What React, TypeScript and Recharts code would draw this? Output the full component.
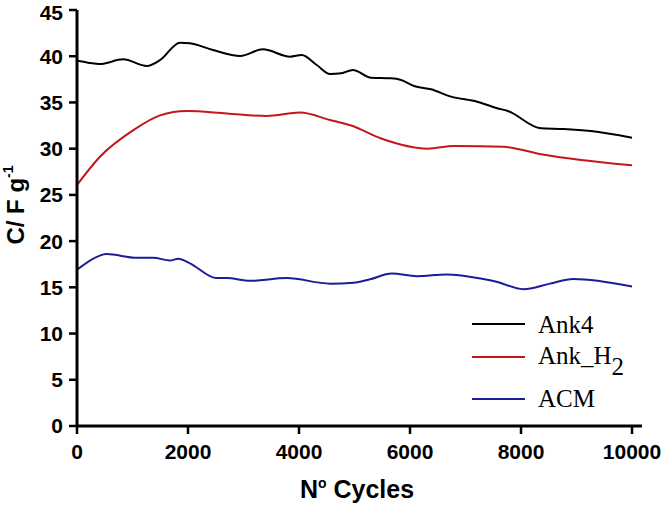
import React from 'react';
import { LineChart, XAxis, YAxis, Line, Legend } from 'recharts';

// cycle number / capacitance (F g-1)
const ank4Cycles = [0, 200, 410, 830, 1260, 1500, 1855, 2035, 2450, 2940, 3350, 3840, 4050, 4320, 4560, 4760, 4970, 5300, 5660, 5840, 6070, 6380, 6740, 7210, 7570, 7760, 8360, 8770, 9260, 10000];
const ank4Values = [39.5, 39.3, 39.16, 39.66, 38.94, 39.6, 41.47, 41.4, 40.67, 40.03, 40.75, 39.95, 40.13, 39.05, 38.08, 38.15, 38.51, 37.68, 37.61, 37.43, 36.78, 36.42, 35.63, 35.08, 34.37, 34.08, 32.2, 32.13, 31.91, 31.19];

const ankH2Cycles = [0, 414, 1015, 1495, 1976, 2700, 3418, 4018, 4560, 4940, 5480, 6320, 6790, 7690, 8360, 10000];
const ankH2Values = [26.07, 29.13, 32.0, 33.6, 34.07, 33.8, 33.53, 33.9, 33.1, 32.5, 31.1, 30.0, 30.3, 30.2, 29.4, 28.2];

const acmCycles = [0, 234, 535, 1075, 1375, 1675, 1825, 2035, 2515, 2695, 3120, 3780, 4560, 4980, 5280, 5670, 6120, 6660, 7320, 7560, 8040, 8520, 8940, 10000];
const acmValues = [16.9, 17.9, 18.6, 18.2, 18.2, 17.9, 18.1, 17.6, 16.0, 16.0, 15.7, 16.0, 15.4, 15.5, 15.87, 16.5, 16.2, 16.4, 15.9, 15.6, 14.8, 15.4, 15.9, 15.1];

const X_TICKS = [0, 2000, 4000, 6000, 8000, 10000];
const Y_TICKS = [0, 5, 10, 15, 20, 25, 30, 35, 40, 45];

const toRows = (cycles: number[], values: number[]) => cycles.map((c, i) => ({ c, v: values[i] }));

const SERIES = [
  { name: 'Ank4', color: '#000000', data: toRows(ank4Cycles, ank4Values) },
  { name: 'Ank_H2', color: '#c4161c', data: toRows(ankH2Cycles, ankH2Values) },
  { name: 'ACM', color: '#1c1c96', data: toRows(acmCycles, acmValues) },
];

const SANS = 'Arial, "Liberation Sans", sans-serif';
const SERIF = '"Times New Roman", "Liberation Serif", serif';

const tickStyle = { fill: '#000', fontSize: 21, fontWeight: 'bold', fontFamily: SANS };
const frame = { stroke: '#000', strokeWidth: 3 };

const LegendBox = ({ payload }: any) => {
  const lineY = [24, 57, 99];
  const baseY = [33, 64, 107];
  return (
    <svg width={192} height={122} style={{ overflow: 'visible', display: 'block' }}>
      {(payload || []).map((p: any) => {
        const i = SERIES.findIndex((s) => s.name === p.value);
        const m = /^(.*_H)(\d)$/.exec(String(p.value));
        return (
          <g key={p.value}>
            <line x1={2} x2={55} y1={lineY[i]} y2={lineY[i]} stroke={p.color} strokeWidth={2} />
            <text x={68} y={baseY[i]} fontFamily={SERIF} fontSize={25} fill="#000">
              {m ? (
                <>
                  {m[1]}
                  <tspan dy={11}>{m[2]}</tspan>
                </>
              ) : (
                p.value
              )}
            </text>
          </g>
        );
      })}
    </svg>
  );
};

const YTitle = () => (
  <text x={24} y={205} transform="rotate(-90, 24, 205)" textAnchor="middle" fontFamily={SANS} fontWeight="bold" fontSize={24} fill="#000">
    C/ F g<tspan fontSize={14} dy={-11}>-1</tspan>
  </text>
);

const XTitle = () => (
  <text x={357} y={498} textAnchor="middle" fontFamily={SANS} fontWeight="bold" fontSize={25} fill="#000">
    N<tspan fontSize={14} dy={-10}>o</tspan>
    <tspan dy={10}> Cycles</tspan>
  </text>
);

export default function App() {
  return (
    <div style={{ position: 'absolute', left: 0, top: 0, background: '#fff' }}>
      <LineChart width={662} height={506} margin={{ top: 10, right: 20, left: 0, bottom: 0 }}>
        <XAxis
          xAxisId="b"
          type="number"
          dataKey="c"
          domain={[0, 10180]}
          ticks={X_TICKS}
          allowDataOverflow
          height={80}
          tickSize={8}
          tickMargin={10}
          axisLine={frame}
          tickLine={{ stroke: '#000', strokeWidth: 2.5 }}
          tick={tickStyle}
          label={{ content: <XTitle /> }}
        />
        <XAxis xAxisId="t" orientation="top" type="number" domain={[0, 10180]} allowDataOverflow height={0} tick={false} tickLine={false} axisLine={frame} />
        <YAxis
          yAxisId="l"
          type="number"
          domain={[0, 45]}
          ticks={Y_TICKS}
          allowDataOverflow
          width={77}
          tickSize={8}
          tickMargin={6}
          axisLine={frame}
          tickLine={{ stroke: '#000', strokeWidth: 2.5 }}
          tick={tickStyle}
          label={{ content: <YTitle /> }}
        />
        <YAxis yAxisId="r" orientation="right" type="number" domain={[0, 45]} allowDataOverflow width={0} tick={false} tickLine={false} axisLine={frame} />
        <Legend
          layout="vertical"
          align="center"
          verticalAlign="middle"
          content={<LegendBox />}
          wrapperStyle={{ position: 'absolute', left: 470, top: 300, width: 192, height: 122 }}
        />
        {SERIES.map((s) => (
          <Line
            key={s.name}
            xAxisId="b"
            yAxisId="l"
            data={s.data}
            dataKey="v"
            name={s.name}
            type="monotone"
            stroke={s.color}
            strokeWidth={2}
            dot={false}
            activeDot={false}
            isAnimationActive={false}
          />
        ))}
      </LineChart>
    </div>
  );
}
